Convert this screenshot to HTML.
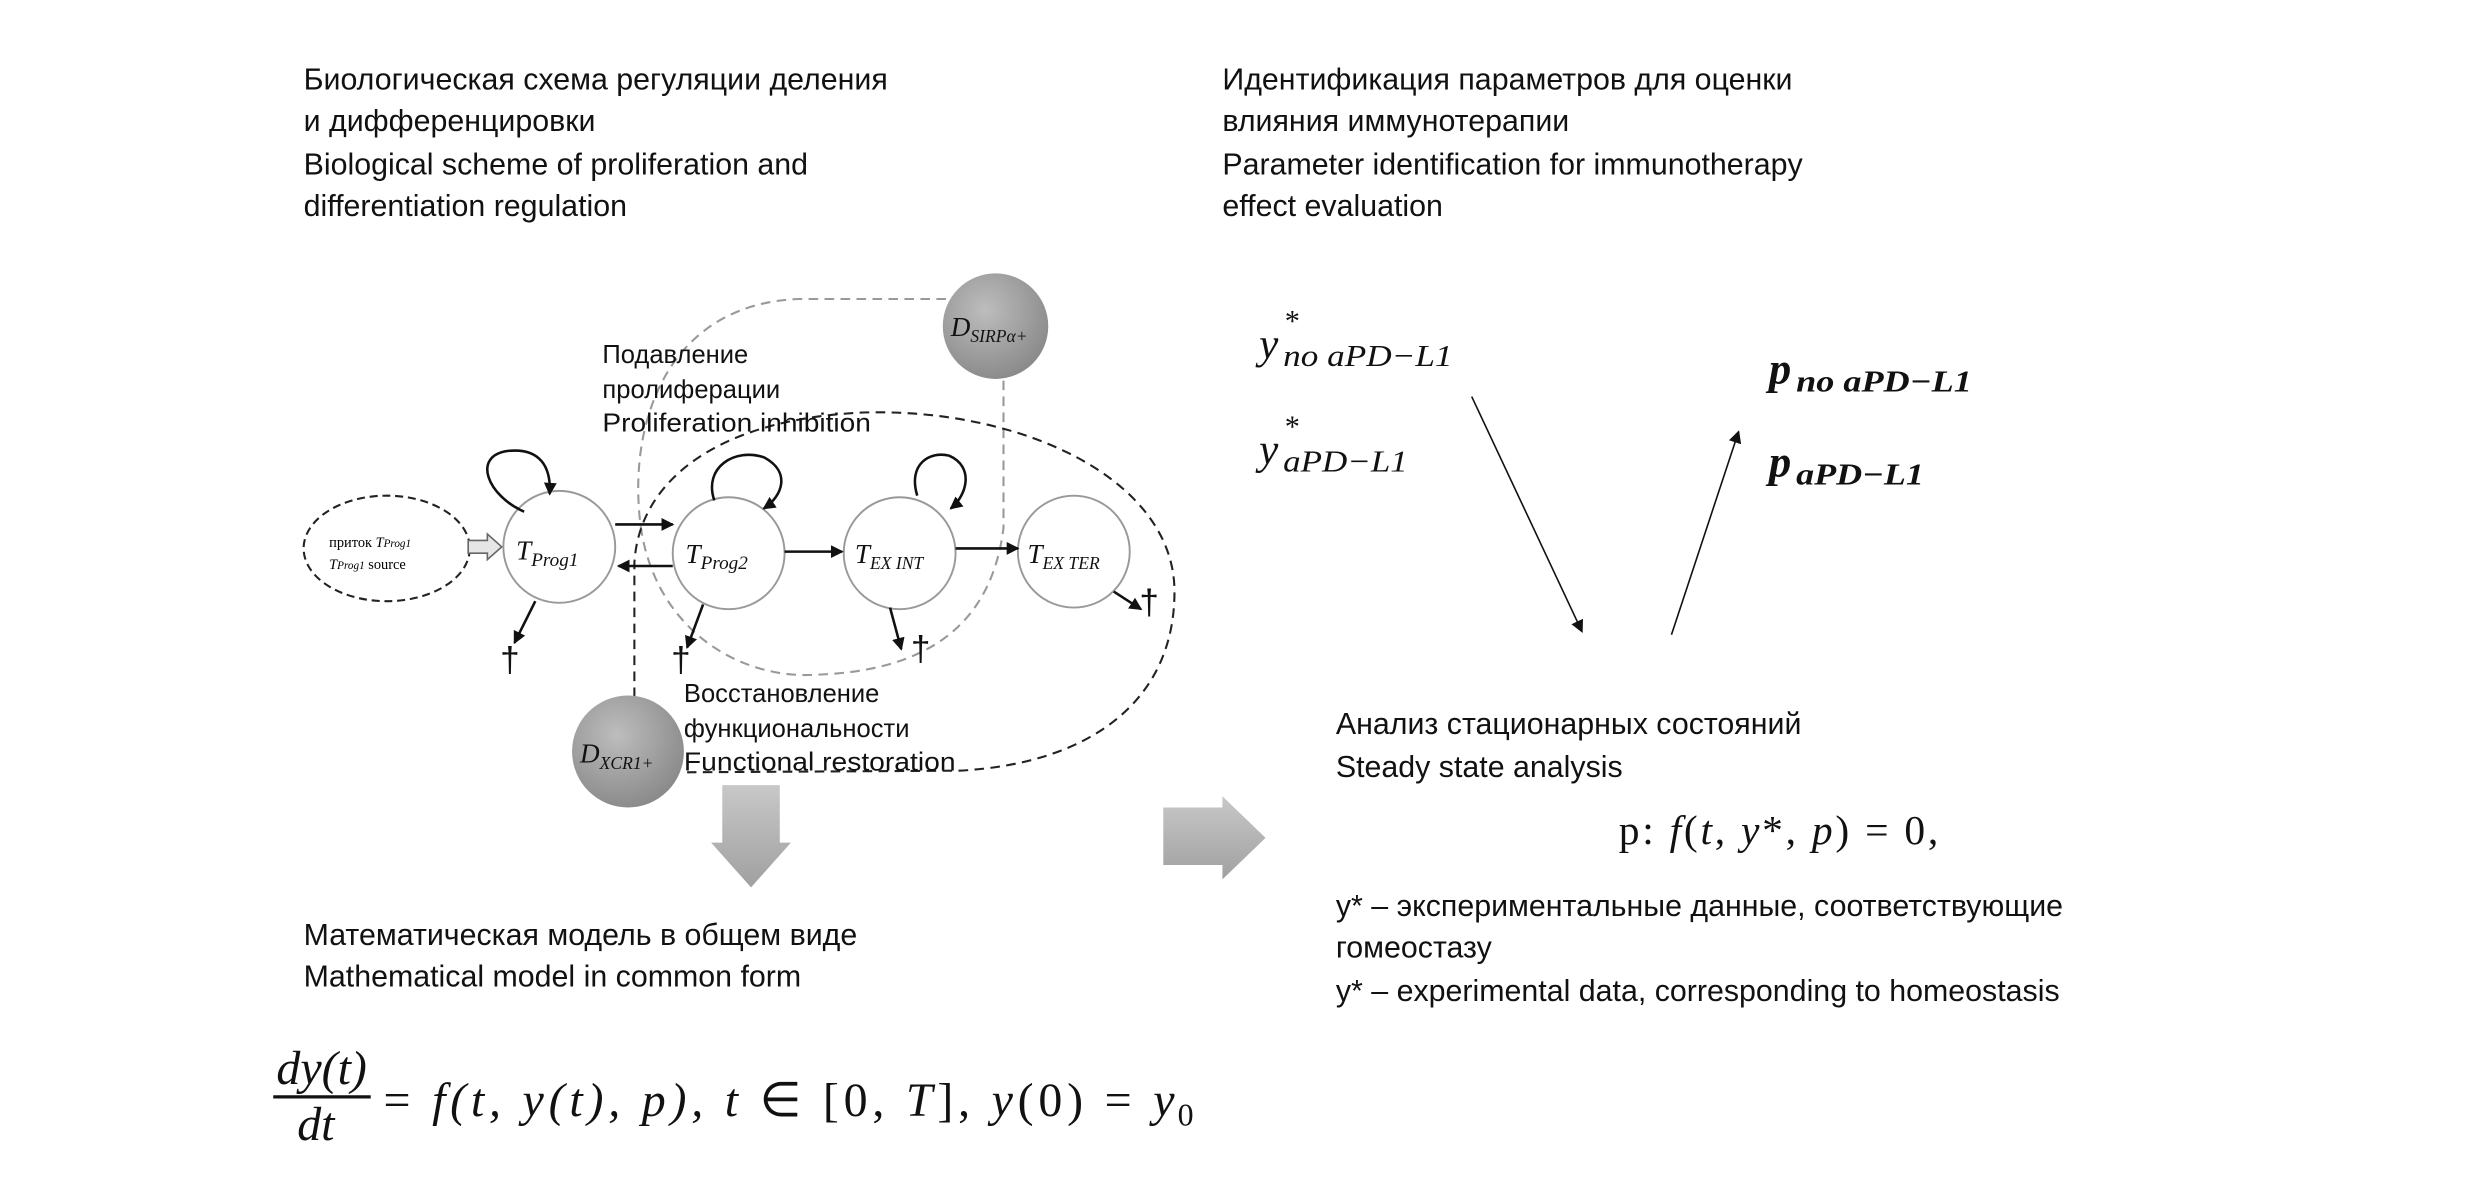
<!DOCTYPE html>
<html><head><meta charset="utf-8"><style>
html,body{margin:0;padding:0;background:#fff;}
svg{display:block;}
.t{font-family:"Liberation Sans",sans-serif;fill:#111;}
.m{font-family:"Liberation Serif",serif;font-style:italic;fill:#111;}
</style></head><body>
<svg width="2480" height="1180" viewBox="0 0 1552 738" preserveAspectRatio="none" xmlns="http://www.w3.org/2000/svg">
<defs>
<marker id="ah" markerWidth="8" markerHeight="8" refX="7" refY="4" orient="auto" markerUnits="userSpaceOnUse"><path d="M0,0 L8,4 L0,8 Z" fill="#111"/></marker>
<radialGradient id="gg" cx="0.4" cy="0.35" r="0.7"><stop offset="0" stop-color="#bdbdbd"/><stop offset="1" stop-color="#888"/></radialGradient>
<linearGradient id="ag" x1="0" y1="0" x2="0" y2="1"><stop offset="0" stop-color="#c8c8c8"/><stop offset="1" stop-color="#a0a0a0"/></linearGradient>
</defs>

<g class="t" font-size="19">
<text x="190" y="56">Биологическая схема регуляции деления</text>
<text x="190" y="82">и дифференцировки</text>
<text x="190" y="109">Biological scheme of proliferation and</text>
<text x="190" y="135">differentiation regulation</text>
<text x="765" y="56">Идентификация параметров для оценки</text>
<text x="765" y="82">влияния иммунотерапии</text>
<text x="765" y="109">Parameter identification for immunotherapy</text>
<text x="765" y="135">effect evaluation</text>
<text x="190" y="591">Математическая модель в общем виде</text>
<text x="190" y="617">Mathematical model in common form</text>
<text x="836" y="459">Анализ стационарных состояний</text>
<text x="836" y="486">Steady state analysis</text>
<text x="836" y="573">y* – экспериментальные данные, соответствующие</text>
<text x="836" y="599">гомеостазу</text>
<text x="836" y="626">y* – experimental data, corresponding to homeostasis</text>
</g>

<path d="M592,187 L500,187 C420,190 395,260 400,320 C405,390 460,425 510,422 C575,420 620,395 628,330 L628,238" fill="none" stroke="#999" stroke-width="1.3" stroke-dasharray="6,4"/>
<path d="M397,436 L397,352 C400,300 450,262 540,258 C640,255 735,300 735,370 C735,440 680,478 600,482 L430,483" fill="none" stroke="#222" stroke-width="1.3" stroke-dasharray="6,4"/>

<ellipse cx="242" cy="343" rx="52" ry="33" fill="#fff" stroke="#222" stroke-width="1.3" stroke-dasharray="5,3"/>
<text x="206" y="342" font-family="Liberation Serif,serif" font-size="9">приток <tspan font-style="italic">T</tspan><tspan font-style="italic" font-size="7">Prog1</tspan></text>
<text x="206" y="356" font-family="Liberation Serif,serif" font-size="9"><tspan font-style="italic">T</tspan><tspan font-style="italic" font-size="7">Prog1</tspan> source</text>
<path d="M293,338 L305,338 L305,334 L314,342 L305,350 L305,346 L293,346 Z" fill="#e6e6e6" stroke="#666" stroke-width="1"/>

<g fill="#fff" stroke="#999" stroke-width="1.2">
<circle cx="350" cy="342" r="35"/>
<circle cx="456" cy="346" r="35"/>
<circle cx="563" cy="346" r="35"/>
<circle cx="672" cy="345" r="35"/>
</g>
<circle cx="623" cy="204" r="33" fill="url(#gg)"/>
<circle cx="393" cy="470" r="35" fill="url(#gg)"/>

<g class="m" font-size="17">
<text x="323" y="350">T<tspan font-size="12" dy="4">Prog1</tspan></text>
<text x="429" y="352">T<tspan font-size="12" dy="4">Prog2</tspan></text>
<text x="535" y="352">T<tspan font-size="11" dy="4">EX INT</tspan></text>
<text x="643" y="352">T<tspan font-size="11" dy="4">EX TER</tspan></text>
<text x="595" y="210">D<tspan font-size="11" dy="4">SIRPα+</tspan></text>
<text x="363" y="477">D<tspan font-size="11" dy="4">XCR1+</tspan></text>
</g>

<g stroke="#111" stroke-width="1.6" fill="none" marker-end="url(#ah)">
<line x1="385" y1="328" x2="421" y2="328"/>
<line x1="421" y1="354" x2="387" y2="354"/>
<line x1="491" y1="345" x2="527" y2="345"/>
<line x1="598" y1="343" x2="637" y2="343"/>
<line x1="335" y1="376" x2="322" y2="402"/>
<line x1="440" y1="378" x2="430" y2="405"/>
<line x1="557" y1="380" x2="564" y2="406"/>
<line x1="697" y1="370" x2="714" y2="381"/>
<path d="M328,320 C305,310 295,285 318,282 C338,280 345,292 344,309"/>
<path d="M447,313 C440,292 460,280 478,286 C495,295 490,310 478,318"/>
<path d="M574,310 C568,290 582,282 594,285 C610,292 605,310 595,318"/>
</g>
<g class="t" font-size="22" fill="#111">
<text x="313" y="420">†</text>
<text x="420" y="420">†</text>
<text x="570" y="413">†</text>
<text x="713" y="384">†</text>
</g>

<g class="t" font-size="16">
<text x="377" y="227">Подавление</text>
<text x="377" y="249">пролиферации</text>
<text x="377" y="270" textLength="168" lengthAdjust="spacingAndGlyphs">Proliferation inhibition</text>
<text x="428" y="439">Восстановление</text>
<text x="428" y="461">функциональности</text>
<text x="428" y="482" textLength="170" lengthAdjust="spacingAndGlyphs">Functional restoration</text>
</g>

<path d="M452,491 L488,491 L488,527 L495,527 L470,555 L445,527 L452,527 Z" fill="url(#ag)"/>
<path d="M728,505 L765,505 L765,498 L792,524 L765,550 L765,541 L728,541 Z" fill="url(#ag)"/>

<g class="m" font-size="30">
<text x="173" y="678">dy(t)</text>
<line x1="171" y1="686" x2="232" y2="686" stroke="#111" stroke-width="2"/>
<text x="186" y="713">dt</text>
<text x="240" y="698" textLength="495" lengthAdjust="spacing"><tspan font-style="normal">=</tspan> f(t, y(t), p),  t <tspan font-style="normal">∈ [0,</tspan> T<tspan font-style="normal">],</tspan>  y<tspan font-style="normal">(0) =</tspan>  y</text>
<text x="737" y="704" font-style="normal" font-size="20">0</text>
</g>

<g class="m" font-size="27">
<text x="788" y="224">y</text>
<text x="788" y="290">y</text>
</g>
<g class="m" font-size="19">
<text x="804" y="207" font-style="normal">*</text>
<text x="803" y="229" textLength="106" lengthAdjust="spacingAndGlyphs">no aPD−L1</text>
<text x="804" y="273" font-style="normal">*</text>
<text x="803" y="295" textLength="78" lengthAdjust="spacingAndGlyphs">aPD−L1</text>
</g>
<g class="m" font-size="28" font-weight="bold">
<text x="1107" y="240">p</text>
<text x="1107" y="298">p</text>
</g>
<g class="m" font-size="19" font-weight="bold">
<text x="1124" y="245" textLength="110" lengthAdjust="spacingAndGlyphs">no aPD−L1</text>
<text x="1124" y="303" textLength="80" lengthAdjust="spacingAndGlyphs">aPD−L1</text>
</g>
<g stroke="#111" stroke-width="1" marker-end="url(#ah)">
<line x1="921" y1="248" x2="990" y2="395"/>
<line x1="1046" y1="397" x2="1088" y2="270"/>
</g>
<text x="1013" y="528" font-family="Liberation Serif,serif" font-size="26" fill="#111" textLength="200" lengthAdjust="spacing">p: <tspan font-style="italic">f</tspan>(<tspan font-style="italic">t</tspan>, <tspan font-style="italic">y</tspan>*, <tspan font-style="italic">p</tspan>) = 0,</text>
</svg>
</body></html>
